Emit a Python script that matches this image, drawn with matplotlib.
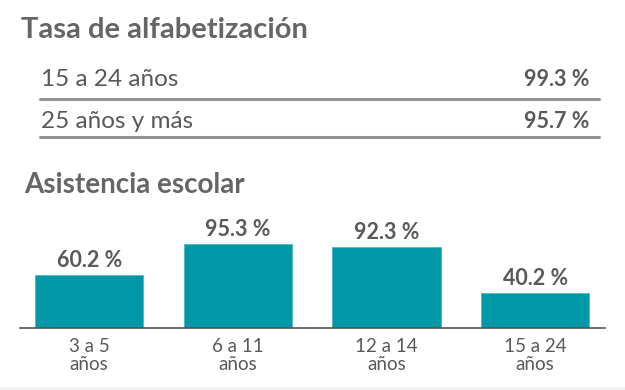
import matplotlib.pyplot as plt
from matplotlib.lines import Line2D
from matplotlib.patches import Rectangle

plt.rcParams['font.family'] = ['Lato', 'DejaVu Sans']

# datos
alfab_grupos = ["15 a 24 años", "25 años y más"]
alfab_valores = [99.3, 95.7]

asist_grupos = ["3 a 5\naños", "6 a 11\naños", "12 a 14\naños", "15 a 24\naños"]
asist_valores = [60.2, 95.3, 92.3, 40.2]

gris_titulo = "#666666"
gris_texto = "#58595b"
gris_linea = "#939393"
teal = "#0097a7"

fig = plt.figure(figsize=(6.25, 3.9), dpi=100)
W, H = 625, 390

def fx(px):
    return px / W

def fy(py):
    return 1 - py / H

# Tasa de alfabetizacion
fig.text(fx(21), fy(30), "Tasa de alfabetización", fontsize=21, fontweight="bold",
         color=gris_titulo, va="center", ha="left")

filas_y = [80, 121]
lineas_y = [99, 137]
for nombre, valor, ty, ly in zip(alfab_grupos, alfab_valores, filas_y, lineas_y):
    fig.text(fx(41), fy(ty), nombre, fontsize=17.5, color=gris_texto, va="center", ha="left")
    fig.text(fx(589), fy(ty), f"{valor:.1f} %", fontsize=15.5, fontweight="bold",
             color=gris_texto, va="center", ha="right")
    fig.add_artist(Line2D([fx(40), fx(599)], [fy(ly), fy(ly)], color=gris_linea, lw=2.2,
                          solid_capstyle="round", transform=fig.transFigure))

# Asistencia escolar
fig.text(fx(24), fy(185), "Asistencia escolar", fontsize=20, fontweight="bold",
         color=gris_titulo, va="center", ha="left")

ax = fig.add_axes([fx(20), fy(328), fx(605) - fx(20), 88 / H])
x = range(len(asist_valores))
ax.bar(x, asist_valores, width=0.727, color=teal, edgecolor="#4fb8c4", linewidth=0.6, zorder=2)
for xi, v in zip(x, asist_valores):
    ax.text(xi, v + 4.5, f"{v:.1f} %", ha="center", va="bottom", fontsize=15.5,
            fontweight="bold", color=gris_texto, clip_on=False)

ax.set_xlim(-0.465, 3.47)
ax.set_ylim(0, 100)
ax.set_xticks(list(x))
ax.set_xticklabels(asist_grupos, fontsize=13.5, color=gris_texto, linespacing=1.1)
ax.tick_params(axis="x", length=0, pad=7)
ax.set_yticks([])
for s in ["top", "right", "left"]:
    ax.spines[s].set_visible(False)
ax.spines["bottom"].set_color("#555555")
ax.spines["bottom"].set_linewidth(1.2)
ax.patch.set_alpha(0)

fig.add_artist(Rectangle((0, 0), 1, 3 / H, transform=fig.transFigure,
                         color="#f2f2f2", zorder=0))

fig.savefig("out.png", dpi=100)
plt.close(fig)
